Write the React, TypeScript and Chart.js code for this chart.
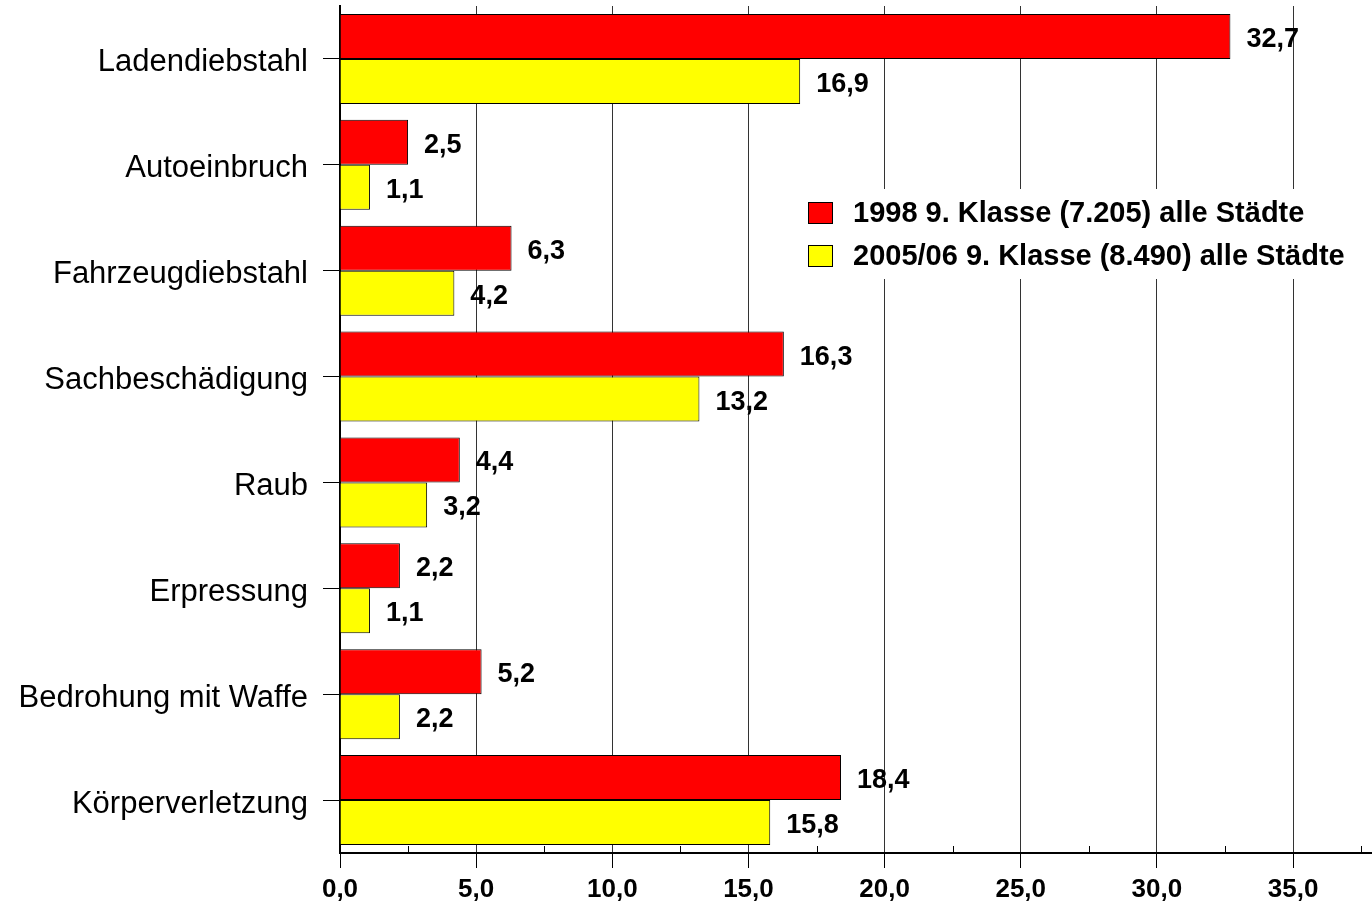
import React, { useEffect, useRef } from "react";
import { Chart, registerables } from "chart.js";

Chart.register(...registerables);

const categories = [
  "Ladendiebstahl",
  "Autoeinbruch",
  "Fahrzeugdiebstahl",
  "Sachbeschädigung",
  "Raub",
  "Erpressung",
  "Bedrohung mit Waffe",
  "Körperverletzung",
];
const series1998 = [32.7, 2.5, 6.3, 16.3, 4.4, 2.2, 5.2, 18.4];
const series2005 = [16.9, 1.1, 4.2, 13.2, 3.2, 1.1, 2.2, 15.8];
const seriesLabels = [
  "1998 9. Klasse (7.205) alle Städte",
  "2005/06 9. Klasse (8.490) alle Städte",
];
const seriesColors = ["#FF0000", "#FFFF00"];
const xMin = 0;
const xMax = 37.9;
const xStep = 2.5;
const xLabelStep = 5;

const FONT = "'Liberation Sans', Arial, sans-serif";

const fmt = (v: number) => v.toFixed(1).replace(".", ",");

const valueLabelPlugin = {
  id: "valueLabels",
  afterDatasetsDraw(chart: any) {
    const ctx = chart.ctx;
    ctx.save();
    ctx.font = `bold 27px ${FONT}`;
    ctx.fillStyle = "#000";
    ctx.textAlign = "left";
    ctx.textBaseline = "middle";
    chart.data.datasets.forEach((ds: any, di: number) => {
      const meta = chart.getDatasetMeta(di);
      meta.data.forEach((bar: any, i: number) => {
        ctx.fillText(fmt(ds.data[i]), bar.x + 16, bar.y + 3);
      });
    });
    ctx.restore();
  },
};

const minorTickPlugin = {
  id: "minorTicks",
  afterDraw(chart: any) {
    const ctx = chart.ctx;
    const xs = chart.scales.x;
    const bottom = chart.chartArea.bottom;
    ctx.save();
    ctx.strokeStyle = "#000";
    ctx.lineWidth = 1;
    for (let v = xStep; v <= xMax; v += xStep) {
      if (Math.abs(v % xLabelStep) < 1e-6) continue;
      const px = Math.round(xs.getPixelForValue(v)) + 0.5;
      ctx.beginPath();
      ctx.moveTo(px, bottom);
      ctx.lineTo(px, bottom - 7);
      ctx.stroke();
    }
    ctx.restore();
  },
};

const legendPlugin = {
  id: "customLegend",
  afterDraw(chart: any) {
    const ctx = chart.ctx;
    ctx.save();
    ctx.fillStyle = "#fff";
    ctx.fillRect(792, 189, 570, 90);
    const rows = [213, 256];
    seriesLabels.forEach((label, i) => {
      const y = rows[i];
      ctx.fillStyle = seriesColors[i];
      ctx.fillRect(808, y - 11, 25, 22);
      ctx.strokeStyle = "#000";
      ctx.lineWidth = 1;
      ctx.strokeRect(808.5, y - 10.5, 24, 21);
      ctx.fillStyle = "#000";
      ctx.font = `bold 29px ${FONT}`;
      ctx.textAlign = "left";
      ctx.textBaseline = "middle";
      ctx.fillText(label, 853, y + 1);
    });
    ctx.restore();
  },
};

export default function App() {
  const ref = useRef<HTMLCanvasElement | null>(null);

  useEffect(() => {
    if (!ref.current) return;
    const isMajor = (v: number) => Math.abs(v % xLabelStep) < 1e-6;
    const chart = new Chart(ref.current, {
      type: "bar",
      data: {
        labels: categories,
        datasets: [
          {
            label: seriesLabels[0],
            data: series1998,
            backgroundColor: seriesColors[0],
            borderColor: "#000",
            borderWidth: 1,
          },
          {
            label: seriesLabels[1],
            data: series2005,
            backgroundColor: seriesColors[1],
            borderColor: "#000",
            borderWidth: 1,
          },
        ],
      },
      options: {
        indexAxis: "y",
        animation: false,
        responsive: false,
        devicePixelRatio: 1,
        layout: { padding: { top: 6, left: 0, right: 0, bottom: 0 } },
        datasets: {
          bar: { categoryPercentage: 0.85, barPercentage: 1 },
        },
        plugins: {
          legend: { display: false },
          tooltip: { enabled: false },
        },
        scales: {
          x: {
            type: "linear",
            min: xMin,
            max: xMax,
            afterFit(scale: any) {
              scale.height = 54;
              scale.paddingLeft = 0;
              scale.paddingRight = 0;
            },
            border: { display: true, color: "#000", width: 2 },
            grid: {
              drawOnChartArea: true,
              drawTicks: true,
              tickLength: 15,
              lineWidth: 1,
              color: (c: any) =>
                c.tick && isMajor(c.tick.value) ? "#333" : "rgba(0,0,0,0)",
              tickColor: (c: any) =>
                c.tick && isMajor(c.tick.value) ? "#000" : "rgba(0,0,0,0)",
            },
            ticks: {
              stepSize: xStep,
              autoSkip: false,
              maxRotation: 0,
              padding: 6,
              color: "#000",
              font: { family: FONT, size: 26, weight: "bold" },
              callback: (v: any) => (isMajor(Number(v)) ? fmt(Number(v)) : ""),
            },
          },
          y: {
            type: "category",
            afterFit(scale: any) {
              scale.width = 340;
              scale.paddingTop = 0;
              scale.paddingBottom = 0;
            },
            border: { display: true, color: "#000", width: 2 },
            grid: {
              offset: false,
              drawOnChartArea: false,
              drawTicks: true,
              tickLength: 17,
              color: "#000",
              tickColor: "#000",
            },
            ticks: {
              padding: 15,
              labelOffset: 4,
              color: "#000",
              font: { family: FONT, size: 31 },
            },
          },
        },
      },
      plugins: [valueLabelPlugin, minorTickPlugin, legendPlugin],
    } as any);
    return () => chart.destroy();
  }, []);

  return (
    <div
      style={{
        position: "fixed",
        left: 0,
        top: 0,
        width: 1372,
        height: 907,
        background: "#fff",
      }}
    >
      <canvas ref={ref} width={1372} height={907} />
    </div>
  );
}
